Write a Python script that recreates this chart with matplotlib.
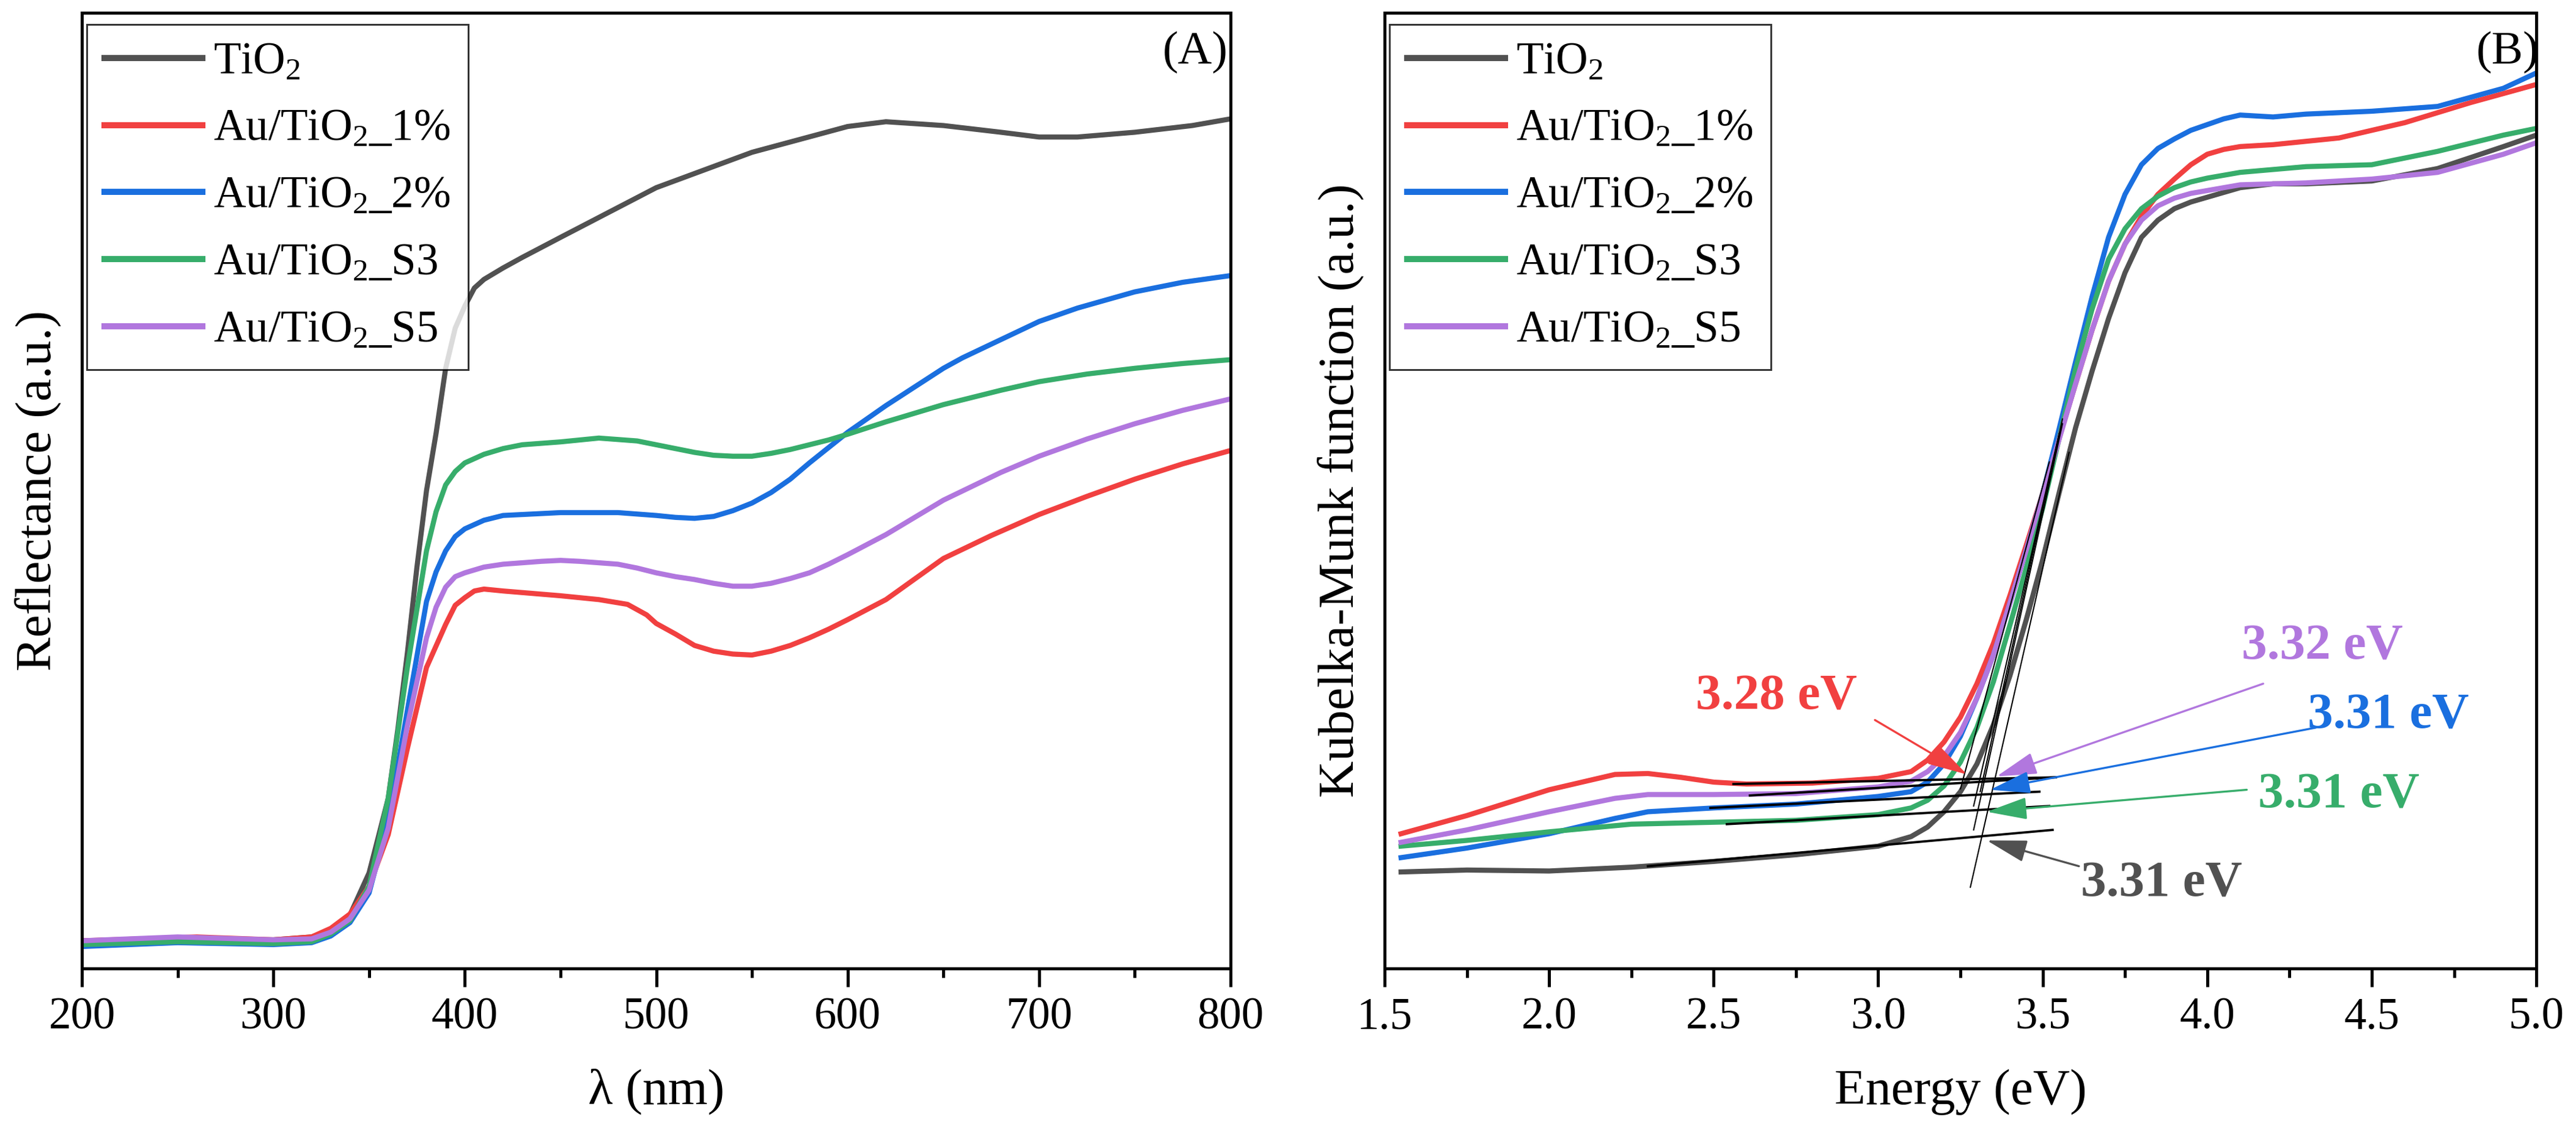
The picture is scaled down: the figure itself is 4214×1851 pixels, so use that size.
import matplotlib
matplotlib.use("Agg")
import matplotlib.pyplot as plt
from matplotlib.ticker import MultipleLocator, FormatStrFormatter

plt.rcParams['font.family'] = ['Liberation Serif', 'DejaVu Serif']
plt.rcParams['mathtext.fontset'] = 'custom'
plt.rcParams['mathtext.rm'] = 'Liberation Serif'
plt.rcParams['mathtext.it'] = 'Liberation Serif:italic'
plt.rcParams['mathtext.bf'] = 'Liberation Serif:bold'

# ---------------- data: panel A (reflectance) ----------------
labels = ["TiO$_2$", "Au/TiO$_2$_1%", "Au/TiO$_2$_2%", "Au/TiO$_2$_S3", "Au/TiO$_2$_S5"]
colors = ["#515151", "#F14040", "#1A6FDF", "#37AD6B", "#B177DE"]

wl_tio2 = [200, 250, 300, 320, 330, 340, 350, 360, 365, 370, 375, 380, 385, 390, 395, 400, 405, 410, 420, 430,
           450, 500, 550, 600, 620, 650, 680, 700, 720, 750, 780, 800]
r_tio2 = [2.9, 3.1, 3.0, 3.3, 4.0, 5.6, 10.0, 17.8, 25.0, 33.0, 42.0, 50.0, 56.0, 62.8, 67.0, 69.3, 71.2, 72.1,
          73.3, 74.4, 76.5, 81.7, 85.4, 88.1, 88.6, 88.2, 87.5, 87.0, 87.0, 87.5, 88.2, 88.9]

wl_1 = [200, 260, 300, 320, 330, 340, 350, 360, 370, 380, 390, 395, 400, 405, 410, 420, 450, 470, 485, 495,
        500, 510, 520, 530, 540, 550, 560, 570, 580, 590, 600, 620, 650, 675, 700, 725, 750, 775, 800]
r_1 = [2.9, 3.3, 3.0, 3.3, 4.2, 5.7, 8.6, 14.0, 23.0, 31.5, 36.0, 38.0, 38.8, 39.5, 39.7, 39.5, 39.0, 38.6, 38.1,
       37.0, 36.1, 35.0, 33.8, 33.2, 32.9, 32.8, 33.2, 33.8, 34.6, 35.5, 36.5, 38.6, 42.9, 45.3, 47.5, 49.4, 51.2,
       52.8, 54.2]

wl_2 = [200, 250, 300, 320, 330, 340, 350, 360, 370, 380, 385, 390, 395, 400, 410, 420, 450, 480, 500, 510,
        520, 530, 540, 550, 560, 570, 580, 590, 600, 620, 650, 660, 680, 700, 720, 750, 775, 800]
r_2 = [2.3, 2.7, 2.5, 2.7, 3.4, 4.8, 7.9, 15.5, 27.0, 38.4, 41.5, 43.7, 45.2, 46.0, 46.9, 47.4, 47.7, 47.7, 47.4,
       47.2, 47.1, 47.3, 47.9, 48.7, 49.8, 51.2, 52.9, 54.5, 56.1, 58.9, 62.8, 63.9, 65.8, 67.7, 69.1, 70.8, 71.8,
       72.5]

wl_s3 = [200, 250, 300, 320, 330, 340, 350, 360, 370, 380, 385, 390, 395, 400, 410, 420, 430, 450, 470, 490,
         500, 510, 520, 530, 540, 550, 560, 570, 580, 590, 600, 620, 650, 680, 700, 725, 750, 775, 800]
r_s3 = [2.5, 2.8, 2.6, 2.8, 3.6, 5.0, 8.6, 17.8, 31.5, 43.7, 47.8, 50.6, 52.0, 52.9, 53.8, 54.4, 54.8, 55.1, 55.5,
        55.2, 54.8, 54.4, 54.0, 53.7, 53.6, 53.6, 53.9, 54.3, 54.8, 55.3, 55.9, 57.2, 59.0, 60.5, 61.4, 62.2, 62.8,
        63.3, 63.7]

wl_s5 = [200, 250, 300, 320, 330, 340, 350, 360, 370, 380, 385, 390, 395, 400, 410, 420, 440, 450, 460, 480,
         490, 500, 510, 520, 530, 540, 550, 560, 570, 580, 590, 600, 620, 650, 680, 700, 725, 750, 775, 800]
r_s5 = [2.9, 3.3, 3.0, 3.1, 3.8, 5.2, 8.2, 14.7, 25.4, 34.6, 37.8, 39.9, 41.0, 41.4, 42.0, 42.3, 42.6, 42.7, 42.6,
        42.3, 41.9, 41.4, 41.0, 40.7, 40.3, 40.0, 40.0, 40.3, 40.8, 41.4, 42.3, 43.3, 45.4, 49.0, 51.9, 53.6, 55.4,
        57.0, 58.4, 59.6]

# ---------------- data: panel B (Kubelka-Munk) ----------------
e_tio2 = [1.55, 1.75, 2.0, 2.25, 2.5, 2.75, 3.0, 3.1, 3.15, 3.2, 3.25, 3.3, 3.35, 3.4, 3.45, 3.5, 3.55, 3.6, 3.65,
          3.7, 3.75, 3.8, 3.85, 3.9, 3.95, 4.0, 4.1, 4.2, 4.3, 4.5, 4.7, 4.9, 5.0]
k_tio2 = [10.1, 10.3, 10.2, 10.6, 11.2, 11.9, 12.8, 13.8, 14.8, 16.4, 18.5, 21.4, 25.5, 30.6, 36.5, 42.8, 49.8,
          56.6, 62.5, 68.0, 72.8, 76.5, 78.3, 79.5, 80.2, 80.7, 81.7, 82.1, 82.1, 82.4, 83.7, 86.0, 87.2]

e_1 = [1.55, 1.75, 2.0, 2.2, 2.3, 2.4, 2.5, 2.6, 2.8, 3.0, 3.1, 3.15, 3.2, 3.25, 3.3, 3.35, 3.4, 3.45, 3.5, 3.55,
       3.6, 3.65, 3.7, 3.75, 3.8, 3.85, 3.9, 3.95, 4.0, 4.05, 4.1, 4.2, 4.4, 4.6, 4.8, 5.0]
k_1 = [14.1, 16.0, 18.7, 20.3, 20.4, 20.0, 19.5, 19.3, 19.4, 19.9, 20.6, 21.8, 23.7, 26.3, 29.8, 34.0, 39.0, 44.3,
       49.7, 55.5, 61.2, 66.8, 71.9, 75.8, 78.7, 81.0, 82.6, 84.1, 85.2, 85.7, 86.0, 86.2, 86.9, 88.5, 90.6, 92.5]

e_2 = [1.55, 1.75, 2.0, 2.2, 2.3, 2.5, 2.75, 3.0, 3.1, 3.15, 3.2, 3.25, 3.3, 3.35, 3.4, 3.45, 3.5, 3.55, 3.6,
       3.65, 3.7, 3.75, 3.8, 3.85, 3.9, 3.95, 4.0, 4.05, 4.1, 4.2, 4.3, 4.5, 4.7, 4.9, 5.0]
k_2 = [11.6, 12.6, 14.1, 15.7, 16.4, 16.8, 17.2, 18.0, 18.5, 19.5, 21.4, 24.3, 28.3, 32.8, 38.2, 43.8, 49.7, 56.5,
       63.5, 70.3, 76.5, 81.0, 84.1, 85.8, 86.8, 87.7, 88.3, 88.9, 89.3, 89.1, 89.4, 89.7, 90.2, 92.1, 93.7]

e_s3 = [1.55, 1.75, 2.0, 2.25, 2.5, 2.75, 3.0, 3.1, 3.15, 3.2, 3.25, 3.3, 3.35, 3.4, 3.45, 3.5, 3.55, 3.6, 3.65,
        3.7, 3.75, 3.8, 3.85, 3.9, 3.95, 4.0, 4.1, 4.3, 4.5, 4.7, 4.9, 5.0]
k_s3 = [12.8, 13.4, 14.3, 15.1, 15.3, 15.5, 16.1, 16.8, 17.6, 19.1, 21.6, 25.2, 30.0, 35.9, 41.9, 48.2, 55.5, 62.7,
        69.0, 74.2, 77.4, 79.5, 80.8, 81.7, 82.3, 82.7, 83.3, 83.9, 84.1, 85.5, 87.2, 87.9]

e_s5 = [1.55, 1.75, 2.0, 2.2, 2.3, 2.5, 2.75, 3.0, 3.1, 3.15, 3.2, 3.25, 3.3, 3.35, 3.4, 3.45, 3.5, 3.55, 3.6,
        3.65, 3.7, 3.75, 3.8, 3.85, 3.9, 3.95, 4.0, 4.1, 4.3, 4.5, 4.7, 4.9, 5.0]
k_s5 = [13.2, 14.5, 16.4, 17.8, 18.2, 18.2, 18.3, 19.0, 19.6, 20.6, 22.2, 24.7, 28.3, 32.8, 38.2, 43.8, 49.7, 55.4,
        61.2, 66.8, 71.9, 75.8, 78.3, 79.8, 80.6, 81.1, 81.4, 82.0, 82.2, 82.6, 83.3, 85.2, 86.4]

# tangent lines (order: TiO2, 1%, 2%, S3, S5): baseline and steep tangents (x0, x1, y0, y1)
base_x0 = [2.30, 2.56, 2.49, 2.54, 2.61]
base_x1 = [3.53, 3.54, 3.49, 3.52, 3.54]
base_y0 = [10.7, 19.3, 16.8, 15.1, 18.1]
base_y1 = [14.5, 20.0, 18.5, 17.0, 20.0]
steep_x0 = [3.28, 3.25, 3.29, 3.29, 3.31]
steep_x1 = [3.58, 3.52, 3.55, 3.56, 3.56]
steep_y0 = [8.5, 18.8, 17.0, 14.5, 18.5]
steep_y1 = [54.0, 53.0, 56.0, 57.0, 57.5]

# band-gap annotations
eg_text = ["3.31 eV", "3.28 eV", "3.31 eV", "3.31 eV", "3.32 eV"]
eg_text_x = [3.86, 2.69, 4.55, 4.40, 4.35]
eg_text_y = [8.8, 28.4, 26.4, 18.1, 33.6]
arr_tail_x = [3.61, 2.99, 4.33, 4.12, 4.17]
arr_tail_y = [10.7, 26.0, 25.2, 18.7, 29.8]
arr_head_x = [3.33, 3.27, 3.34, 3.33, 3.36]
arr_head_y = [13.4, 20.3, 18.7, 16.4, 20.1]

wlA = [wl_tio2, wl_1, wl_2, wl_s3, wl_s5]
rA = [r_tio2, r_1, r_2, r_s3, r_s5]
eB = [e_tio2, e_1, e_2, e_s3, e_s5]
kB = [k_tio2, k_1, k_2, k_s3, k_s5]

fig = plt.figure(figsize=(4214 / 300, 1851 / 300), dpi=300)
axA = fig.add_axes([0.0318, 0.1437, 0.4459, 0.845])
axB = fig.add_axes([0.5375, 0.1437, 0.4471, 0.845])

LW = 2.0
for i in range(5):
    axA.plot(wlA[i], rA[i], color=colors[i], lw=LW, label=labels[i], solid_joinstyle='round')
for i in range(5):
    axB.plot(eB[i], kB[i], color=colors[i], lw=LW, label=labels[i], solid_joinstyle='round')

for i in range(5):
    axB.plot([base_x0[i], base_x1[i]], [base_y0[i], base_y1[i]], color='black', lw=0.9)
    axB.plot([steep_x0[i], steep_x1[i]], [steep_y0[i], steep_y1[i]], color='black', lw=0.5)
order = [1, 4, 2, 3, 0]
for i in order:
    axB.annotate("", xy=(arr_head_x[i], arr_head_y[i]), xytext=(arr_tail_x[i], arr_tail_y[i]),
                 arrowprops=dict(arrowstyle='-|>,head_length=0.8,head_width=0.22', color=colors[i], lw=0.8,
                                 mutation_scale=17, shrinkA=0, shrinkB=0))
    axB.text(eg_text_x[i], eg_text_y[i], eg_text[i], color=colors[i], fontsize=20,
             fontweight='bold', ha='center', va='center')

for ax in (axA, axB):
    ax.set_ylim(0, 100)
    ax.set_yticks([])
    for s in ax.spines.values():
        s.set_linewidth(1.2)
    ax.tick_params(axis='x', which='major', direction='out', length=7.2, width=1.2, labelsize=17.5, pad=4)
    ax.tick_params(axis='x', which='minor', direction='out', length=3.6, width=1.2)
    ax.tick_params(axis='x', top=False)
    leg = ax.legend(loc='upper left', bbox_to_anchor=(0.004, 0.988), borderaxespad=0, fontsize=17.5,
                    frameon=True, fancybox=False, edgecolor='black', handlelength=2.2, handletextpad=0.25,
                    labelspacing=0.58, borderpad=0.4)
    leg.get_frame().set_linewidth(0.7)
    for h in leg.get_lines():
        h.set_linewidth(2.4)

axA.set_xlim(200, 800)
axA.xaxis.set_major_locator(MultipleLocator(100))
axA.xaxis.set_minor_locator(MultipleLocator(50))
axA.set_xlabel("λ (nm)", fontsize=20, labelpad=12)
axA.set_ylabel("Reflectance (a.u.)", fontsize=20, labelpad=8)
axA.text(0.969, 0.959, "(A)", transform=axA.transAxes, fontsize=18.5, ha='center', va='center')

axB.set_xlim(1.5, 5.0)
axB.xaxis.set_major_locator(MultipleLocator(0.5))
axB.xaxis.set_minor_locator(MultipleLocator(0.25))
axB.xaxis.set_major_formatter(FormatStrFormatter('%.1f'))
axB.set_xlabel("Energy (eV)", fontsize=20, labelpad=12)
axB.set_ylabel("Kubelka-Munk function (a.u.)", fontsize=20, labelpad=8)
axB.text(0.975, 0.959, "(B)", transform=axB.transAxes, fontsize=18.5, ha='center', va='center')

fig.savefig("out.png", dpi=300)
